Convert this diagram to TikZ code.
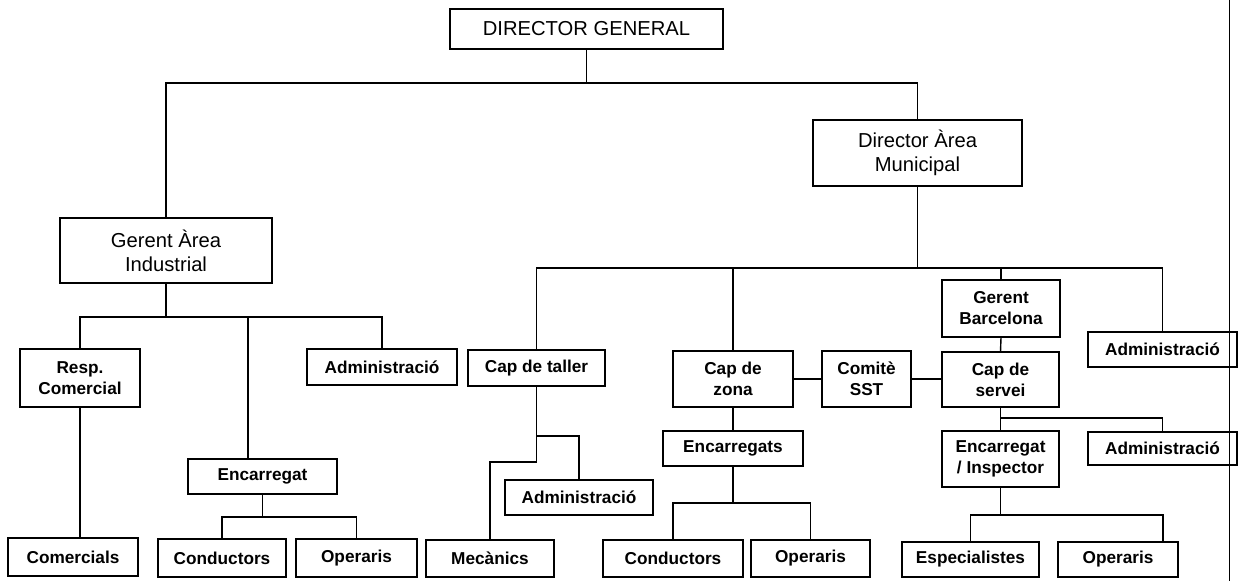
\documentclass[tikz,border=0pt]{standalone}
\usepackage{fontspec}
\setmainfont{Liberation Sans}
\usetikzlibrary{math}
\usetikzlibrary{calc}

\begin{document}
\begin{tikzpicture}[
  x=0.02cm, y=-0.02cm,
  line width=0.8pt,
  box/.style={draw, line width=0.7pt, inner sep=0pt, align=center,
    font=\fontsize{9.8}{11.9}\selectfont\bfseries},
  bigbox/.style={box, font=\fontsize{11.5}{13.6}\selectfont},
  boxsize/.style 2 args={minimum width=#1*0.02cm, minimum height=#2*0.02cm},
  ]

  \tikzmath{
    \busDG   = 83;  % bus under director general
    \busGAI  = 317; % bus under gerent area industrial
    \busDAM  = 268; % bus under director area municipal
    \busEncI = 517; % bus under encarregat (industrial)
    \busEncs = 503; % bus under encarregats
    \busEI   = 515; % bus under encarregat / inspector
    \busCS   = 418; % branch to administracio under cap de servei
    \brT     = 436; % branch to administracio under cap de taller
    \jogT    = 462; % jog towards mecanics
  }

  \useasboundingbox (0,0) rectangle (1243,581);

  % Top levels
  \node[bigbox, boxsize={273}{40}] (DG)  at (586.5,29)  {DIRECTOR GENERAL};
  \node[bigbox, boxsize={212}{65}] (GAI) at (166,250.5) {Gerent Àrea\\Industrial};
  \node[bigbox, boxsize={209}{66}] (DAM) at (917.5,153) {Director Àrea\\Municipal};

  % Industrial area
  \node[box, boxsize={120}{58}] (RC)   at (80,378)    {Resp.\\Comercial};
  \node[box, boxsize={150}{36}] (AdmI) at (382,367)   {Administració};
  \node[box, boxsize={149}{35}] (EncI) at (262.5,476.5) {Encarregat};
  \node[box, boxsize={130}{38}] (Com)  at (73,557)    {Comercials};
  \node[box, boxsize={128}{38}] (ConI) at (222,558)   {Conductors};
  \node[box, boxsize={121}{38}] (OpI)  at (356.5,558) {Operaris};

  % Municipal area
  \node[box, boxsize={137}{36}] (CT)     at (536.5,368)   {Cap de taller};
  \node[box, boxsize={148}{35}] (AdmT)   at (579,497.5)   {Administració};
  \node[box, boxsize={128}{37}] (Mec)    at (490,558.5)   {Mecànics};
  \node[box, boxsize={120}{56}] (CZ)     at (733,379)     {Cap de\\zona};
  \node[box, boxsize={89}{56}]  (Comite) at (866.5,379)   {Comitè\\SST};
  \node[box, boxsize={140}{35}] (Encs)   at (733,448.5)   {Encarregats};
  \node[box, boxsize={140}{37}] (ConM)   at (673,558.5)   {Conductors};
  \node[box, boxsize={119}{37}] (OpM)    at (810.5,558.5) {Operaris};
  \node[box, boxsize={118}{57}] (GB)     at (1001,308.5)  {Gerent\\Barcelona};
  \node[box, boxsize={117}{55}] (CS)     at (1000.5,379.5) {Cap de\\servei};
  \node[box, boxsize={149}{35}] (AdmR1)  at (1162.5,349.5) {Administració};
  \node[box, boxsize={149}{33}] (AdmR2)  at (1162.5,448.5) {Administració};
  \node[box, boxsize={117}{56}] (EI)     at (1000.5,459)  {Encarregat\\/ Inspector};
  \node[box, boxsize={137}{35}] (Esp)    at (970.5,559.5) {Especialistes};
  \node[box, boxsize={120}{35}] (OpR)    at (1118,559.5)  {Operaris};

  % Off-centre landing points
  \coordinate (inEncI) at ($(EncI.north)+(-14.5,0)$);
  \coordinate (inOpR)  at ($(OpR.north)+(45,0)$);

  % Director general
  \draw (DG.south) -- (DG.south |- 0,\busDG);
  \draw (GAI.north) |- (DG.south |- 0,\busDG) -| (DAM.north);

  % Gerent area industrial
  \draw (GAI.south) -- (GAI.south |- 0,\busGAI);
  \draw (RC.north) |- (GAI.south |- 0,\busGAI) -| (AdmI.north);
  \draw (inEncI) -- (inEncI |- 0,\busGAI);
  \draw (RC.south) -- (RC.south |- Com.north);
  \draw (EncI.south) -- (EncI.south |- 0,\busEncI);
  \draw (ConI.north) |- (EncI.south |- 0,\busEncI) -| (OpI.north);

  % Director area municipal
  \draw (DAM.south) -- (DAM.south |- 0,\busDAM);
  \draw (CT.north) |- (DAM.south |- 0,\busDAM) -| (AdmR1.north);
  \draw (CZ.north) -- (CZ.north |- 0,\busDAM);
  \draw (GB.north) -- (GB.north |- 0,\busDAM);

  % Cap de taller
  \draw (CT.south) -- (CT.south |- 0,\jogT) -| (Mec.north);
  \draw (CT.south |- 0,\brT) -| (AdmT.north);

  % Cap de zona
  \draw (CZ.east) -- (Comite.west);
  \draw (Comite.east) -- (Comite.east -| CS.west);
  \draw (CZ.south) -- (Encs.north);
  \draw (Encs.south) -- (Encs.south |- 0,\busEncs);
  \draw (ConM.north) |- (Encs.south |- 0,\busEncs) -| (OpM.north);

  % Gerent Barcelona
  \draw (GB.south) -- (CS.north);
  \draw (CS.south) -- (EI.north);
  \draw (CS.south |- 0,\busCS) -| (AdmR2.north);
  \draw (EI.south) -- (EI.south |- 0,\busEI);
  \draw (Esp.north) |- (EI.south |- 0,\busEI) -| (inOpR);

  % Page edge
  \coordinate (edgeTop) at (1229,0);
  \coordinate (edgeBot) at (1229,581);
  \draw[line width=0.5pt] (edgeTop) -- (edgeBot);

\end{tikzpicture}
\end{document}
